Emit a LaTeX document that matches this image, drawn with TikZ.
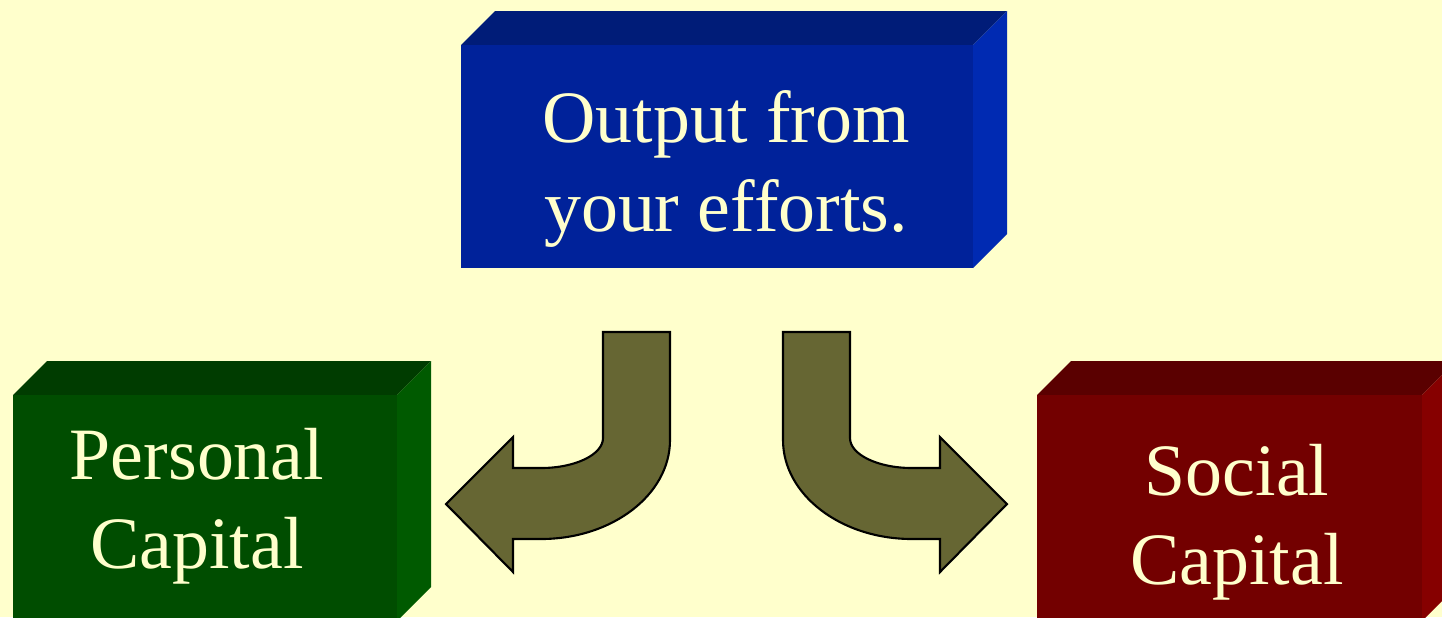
\documentclass[tikz,border=0pt]{standalone}
\usepackage{fontspec}
\setmainfont{Liberation Serif}
\definecolor{PaperCream}{HTML}{FFFFCC}
\definecolor{LabelCream}{HTML}{FFFFCC}
\definecolor{BlueFront}{HTML}{00229A}
\definecolor{BlueTop}{HTML}{001C78}
\definecolor{BlueSide}{HTML}{002AB2}
\definecolor{GreenFront}{HTML}{004D00}
\definecolor{GreenTop}{HTML}{003C00}
\definecolor{GreenSide}{HTML}{005A00}
\definecolor{RedFront}{HTML}{730000}
\definecolor{RedTop}{HTML}{5A0000}
\definecolor{RedSide}{HTML}{860000}
\definecolor{BendOlive}{HTML}{666633}
\usepackage{tikz}
\usetikzlibrary{positioning}

\begin{document}
\begin{tikzpicture}[x=0.01cm,y=-0.01cm,
    boxtext/.style={align=center,text=LabelCream,inner sep=0pt,
      font=\fontsize{21}{25.2}\selectfont},
    bendarrow/.style={fill=BendOlive,draw=black,line width=0.6pt,line join=miter}]
    \clip (0,0) rectangle (1442,617);
    \fill[PaperCream] (0,0) rectangle (1442,617);
    % the three blocks: front, top and right faces
    \foreach \l/\t/\r/\b/\col in {461/45/973/268/Blue,13/395/397/621/Green,1037/395/1422/621/Red} {
      \fill[fill=\col Top] (\l,\t) -- (\l+34,\t-34) -- (\r+34,\t-34) -- (\r,\t) -- cycle;
      \fill[fill=\col Side] (\r,\t) -- (\r+34,\t-34) -- (\r+34,\b-34) -- (\r,\b) -- cycle;
      \fill[fill=\col Front] (\l,\t) rectangle (\r,\b);
    }
    \node[boxtext] (output) at (726,169) {Output from\\your efforts.};
    \node[boxtext] (personal) at (197,506) {Personal\\Capital};
    \node[boxtext] (social) at (1237,522) {Social\\Capital};
    % bent arrows, the right one mirrored
    \foreach \s in {1,-1} {
      \begin{scope}[shift={(726.5,0)},xscale=\s]
        \filldraw[bendarrow] (-123.5,332) -- (-56.5,332) -- (-56.5,440)
          .. controls (-56.5,494.6) and (-114.3,539) .. (-185.5,539)
          -- (-213.5,539) -- (-213.5,572) -- (-280.5,504) -- (-213.5,437)
          -- (-213.5,468) -- (-185.5,468)
          .. controls (-151.3,468) and (-123.5,454.6) .. (-123.5,438) -- cycle;
      \end{scope}
    }
  \end{tikzpicture}
\end{document}
